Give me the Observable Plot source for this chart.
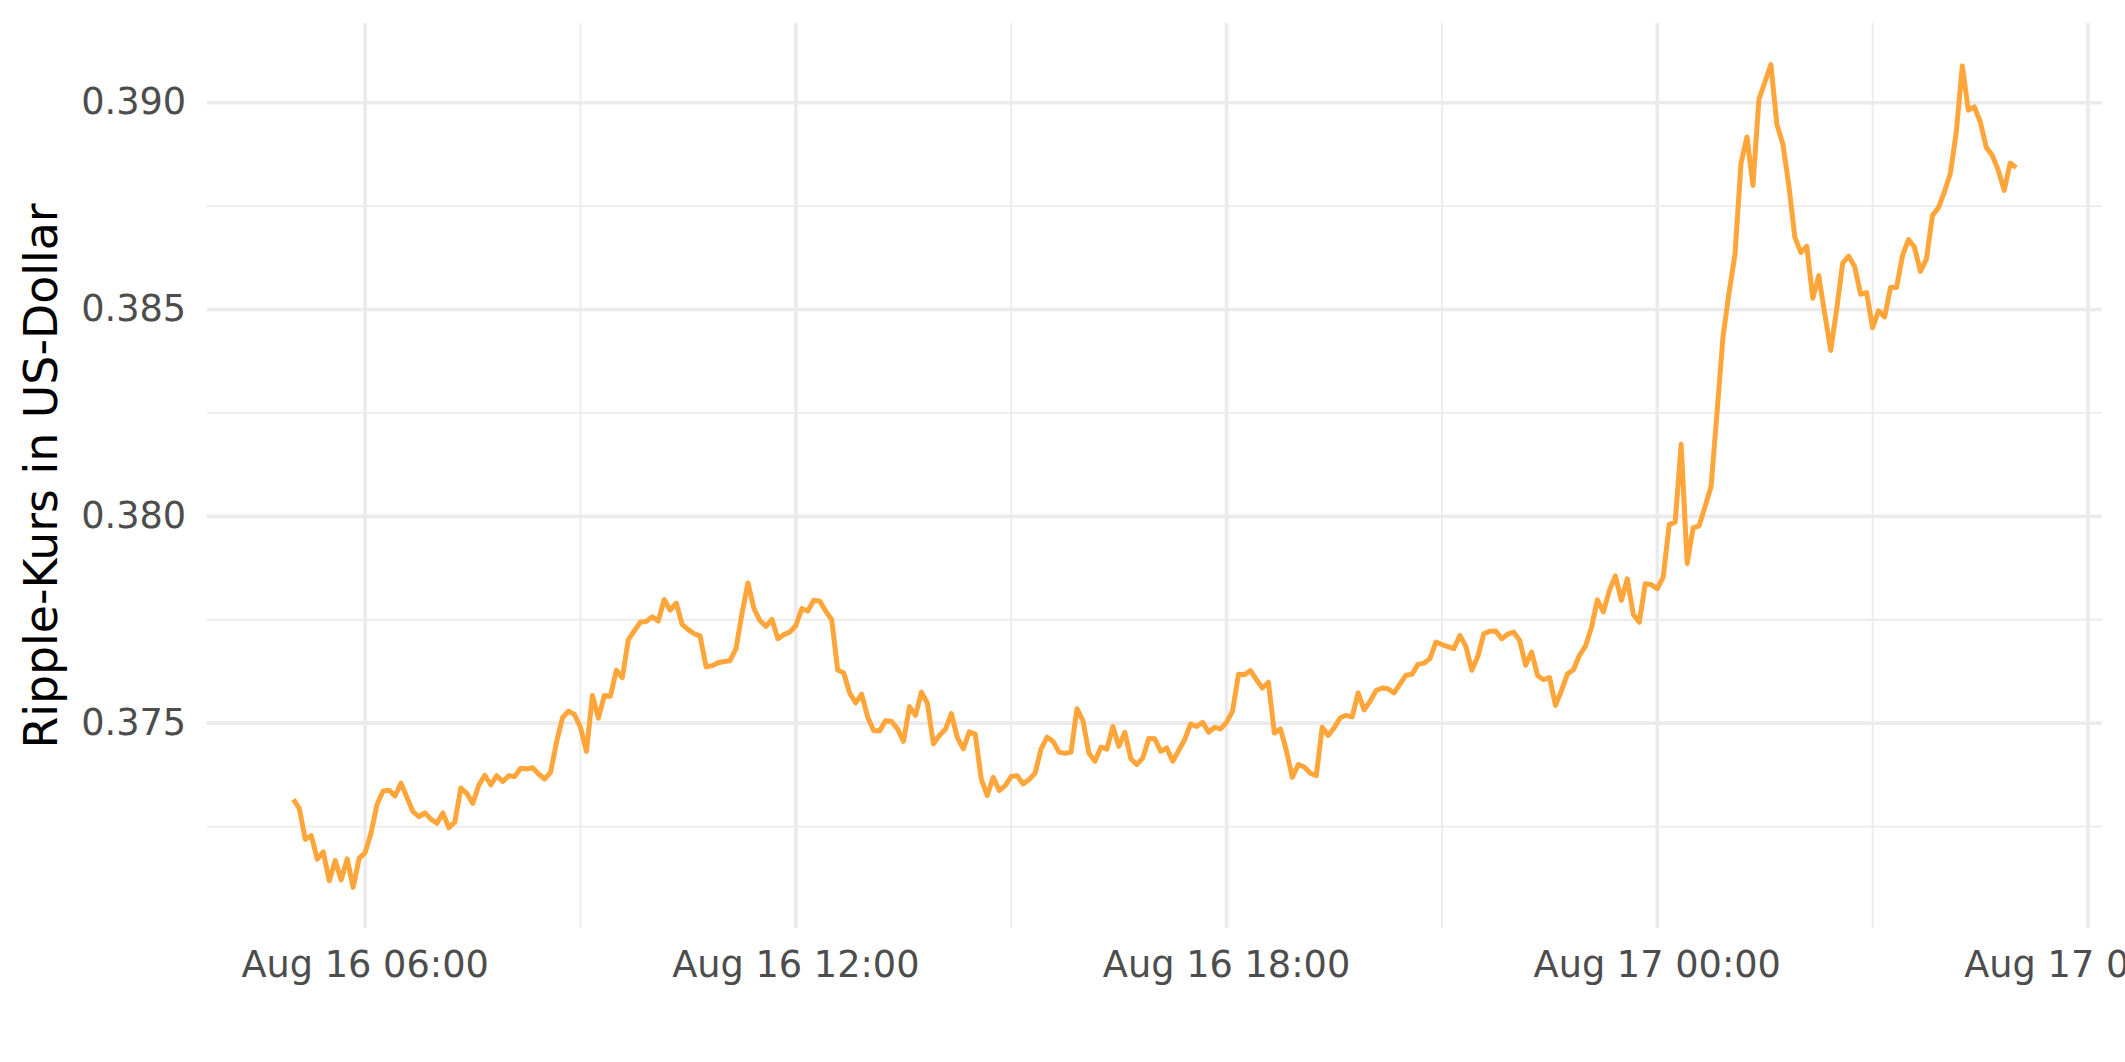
<!DOCTYPE html>
<html>
<head>
<meta charset="utf-8">
<script src="https://cdn.jsdelivr.net/npm/d3@7"></script>
<script src="https://cdn.jsdelivr.net/npm/@observablehq/plot@0.6"></script>
<style>
html, body { margin: 0; padding: 0; overflow: hidden; background: #ffffff; }
</style>
</head>
<body>
<div id="chart"></div>
<script>
// Ripple (XRP) price in USD, 5-minute intervals, 16 Aug 2022 05:00 to 17 Aug 2022 05:00 (UTC)
const seriesStart = "2022-08-16T05:00:00Z";
const intervalMinutes = 5;
const prices = [
  0.37316, 0.37294, 0.37219, 0.37228, 0.37171, 0.37189, 0.37119, 0.37168, 0.37121, 0.37172,
  0.37103, 0.37173, 0.37187, 0.37235, 0.37304, 0.37336, 0.37338, 0.37324, 0.37355, 0.37320,
  0.37286, 0.37274, 0.37283, 0.37268, 0.37258, 0.37283, 0.37247, 0.37261, 0.37343, 0.37330,
  0.37306, 0.37350, 0.37374, 0.37351, 0.37373, 0.37359, 0.37373, 0.37371, 0.37391, 0.37389,
  0.37392, 0.37377, 0.37365, 0.37381, 0.37454, 0.37513, 0.37529, 0.37521, 0.37490, 0.37432,
  0.37567, 0.37512, 0.37567, 0.37565, 0.37628, 0.37610, 0.37702, 0.37723, 0.37744, 0.37746,
  0.37757, 0.37747, 0.37799, 0.37773, 0.37790, 0.37739, 0.37726, 0.37716, 0.37711, 0.37636,
  0.37639, 0.37646, 0.37649, 0.37651, 0.37680, 0.37765, 0.37839, 0.37777, 0.37748, 0.37734,
  0.37751, 0.37704, 0.37714, 0.37720, 0.37736, 0.37777, 0.37771, 0.37797, 0.37795, 0.37771,
  0.37750, 0.37628, 0.37622, 0.37573, 0.37549, 0.37570, 0.37515, 0.37482, 0.37481, 0.37506,
  0.37504, 0.37486, 0.37456, 0.37540, 0.37519, 0.37575, 0.37548, 0.37450, 0.37470, 0.37485,
  0.37523, 0.37465, 0.37438, 0.37479, 0.37473, 0.37365, 0.37325, 0.37369, 0.37337, 0.37349,
  0.37371, 0.37373, 0.37353, 0.37364, 0.37379, 0.37438, 0.37466, 0.37456, 0.37430, 0.37427,
  0.37430, 0.37535, 0.37506, 0.37427, 0.37408, 0.37442, 0.37437, 0.37492, 0.37444, 0.37478,
  0.37414, 0.37400, 0.37416, 0.37463, 0.37462, 0.37432, 0.37440, 0.37408, 0.37434, 0.37460,
  0.37498, 0.37492, 0.37502, 0.37478, 0.37490, 0.37486, 0.37502, 0.37529, 0.37618, 0.37617,
  0.37627, 0.37605, 0.37585, 0.37599, 0.37476, 0.37486, 0.37434, 0.37369, 0.37400, 0.37394,
  0.37379, 0.37373, 0.37490, 0.37470, 0.37489, 0.37513, 0.37519, 0.37515, 0.37573, 0.37532,
  0.37553, 0.37579, 0.37585, 0.37583, 0.37573, 0.37595, 0.37616, 0.37618, 0.37642, 0.37645,
  0.37656, 0.37696, 0.37690, 0.37685, 0.37680, 0.37712, 0.37686, 0.37628, 0.37661, 0.37716,
  0.37722, 0.37723, 0.37704, 0.37715, 0.37720, 0.37700, 0.37640, 0.37672, 0.37615, 0.37605,
  0.37610, 0.37543, 0.37579, 0.37619, 0.37629, 0.37664, 0.37686, 0.37731, 0.37798, 0.37769,
  0.37821, 0.37856, 0.37797, 0.37849, 0.37763, 0.37744, 0.37837, 0.37835, 0.37825, 0.37853,
  0.37980, 0.37986, 0.38174, 0.37886, 0.37972, 0.37977, 0.38024, 0.38072, 0.38252, 0.38435,
  0.38540, 0.38634, 0.38853, 0.38917, 0.38800, 0.39008, 0.39050, 0.39092, 0.38948, 0.38900,
  0.38800, 0.38675, 0.38638, 0.38653, 0.38527, 0.38582, 0.38490, 0.38401, 0.38501, 0.38612,
  0.38629, 0.38604, 0.38537, 0.38541, 0.38456, 0.38497, 0.38482, 0.38553, 0.38553, 0.38630,
  0.38669, 0.38651, 0.38592, 0.38622, 0.38727, 0.38746, 0.38784, 0.38829, 0.38930, 0.39089,
  0.38982, 0.38990, 0.38954, 0.38892, 0.38873, 0.38837, 0.38788, 0.38854, 0.38843
];
const yMajorTicks = [0.375, 0.380, 0.385, 0.390];
const yMinorTicks = [0.3725, 0.3775, 0.3825, 0.3875];
const xMajorTicks = ["2022-08-16T06:00:00Z", "2022-08-16T12:00:00Z", "2022-08-16T18:00:00Z", "2022-08-17T00:00:00Z", "2022-08-17T06:00:00Z"];
const xMinorTicks = ["2022-08-16T09:00:00Z", "2022-08-16T15:00:00Z", "2022-08-16T21:00:00Z", "2022-08-17T03:00:00Z"];
const yTitle = "Ripple-Kurs in US-Dollar";

const t0 = new Date(seriesStart).getTime();
const data = prices.map((p, i) => ({ time: new Date(t0 + i * intervalMinutes * 60000), price: p }));
const xMaj = xMajorTicks.map(d => new Date(d));
const xMin = xMinorTicks.map(d => new Date(d));

const [tMin, tMax] = d3.extent(data, d => d.time);
const tSpan = tMax - tMin;
const [pMin, pMax] = d3.extent(prices);
const pSpan = pMax - pMin;

const W = 2125, H = 1062;
const mL = 206.7, mR = 23.2, mT = 23, mB = 134;
const grid = "#EBEBEB";
const txt = "#4D4D4D";

const chart = Plot.plot({
  width: W,
  height: H,
  marginLeft: mL,
  marginRight: mR,
  marginTop: mT,
  marginBottom: mB,
  style: { fontFamily: "DejaVu Sans", background: "#ffffff", overflow: "visible" },
  x: { type: "utc", domain: [new Date(+tMin - 0.05 * tSpan), new Date(+tMax + 0.05 * tSpan)] },
  y: { domain: [pMin - 0.05 * pSpan, pMax + 0.05 * pSpan] },
  marks: [
    Plot.ruleY(yMinorTicks, { stroke: grid, strokeWidth: 1.8 }),
    Plot.ruleX(xMin, { stroke: grid, strokeWidth: 1.8 }),
    Plot.ruleY(yMajorTicks, { stroke: grid, strokeWidth: 3.6 }),
    Plot.ruleX(xMaj, { stroke: grid, strokeWidth: 3.6 }),
    Plot.lineY(data, { x: "time", y: "price", stroke: "#FFA53A", strokeWidth: 5, strokeLinejoin: "round", strokeLinecap: "butt" }),
    Plot.axisY(yMajorTicks, { tickSize: 0, tickPadding: 21, tickFormat: d3.format(".3f"), fontSize: 36.7, color: txt, label: null }),
    Plot.axisX(xMaj, { tickSize: 0, tickPadding: 22, tickFormat: d3.utcFormat("%b %d %H:%M"), fontSize: 36.7, color: txt, label: null }),
    Plot.text([yTitle], { frameAnchor: "left", dx: -(mL - 42), rotate: -90, fontSize: 45.8, fill: "#000000", textAnchor: "middle" })
  ]
});
document.getElementById("chart").appendChild(chart);
</script>
</body>
</html>
